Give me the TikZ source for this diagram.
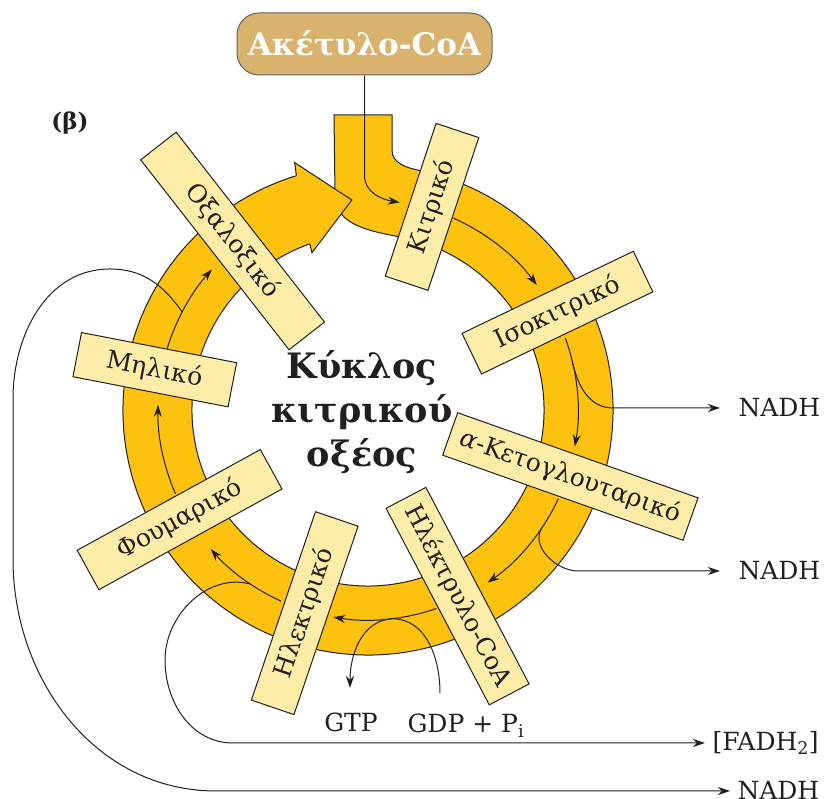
\documentclass[tikz,border=0pt]{standalone}
\usepackage{fontspec}
\setmainfont{DejaVu Serif}
\usetikzlibrary{arrows.meta}

\definecolor{ringcol}{HTML}{FDC20F}
\definecolor{boxcol}{HTML}{FEEDA8}
\definecolor{acetcol}{HTML}{D9B26E}
\definecolor{inkcol}{HTML}{231F20}

\begin{document}
\begin{tikzpicture}
[x=1pt, y=1pt, line width=1pt,
 met/.style={draw=inkcol, fill=boxcol, text=inkcol, minimum height=45, inner sep=0pt, font=\fontsize{25}{30}\selectfont},
 acet/.style={draw=inkcol!70, fill=acetcol, text=white, rounded corners=22, minimum width=255, minimum height=62, font=\fontsize{31}{36}\selectfont\bfseries},
 lbl/.style={text=inkcol, inner sep=0pt, font=\fontsize{25}{30}\selectfont},
 flow/.style={draw=inkcol, arrows={-Stealth[length=12pt, width=8pt]}}]
\useasboundingbox (0,0) rectangle (836,799);

\node[acet] (acetyl) at (364.5,755) {Ακέτυλο-CoA};
\node[text=inkcol, font=\fontsize{23}{27}\selectfont\bfseries] (beta) at (70,676) {(β)};
\node[text=inkcol, align=center, font=\fontsize{35}{44}\selectfont\bfseries] (cycle) at (362,387) {Κύκλος\\κιτρικού\\οξέος};

\node[lbl, anchor=west, inner xsep=18pt] (nadh1) at (720,391) {NADH};
\node[lbl, anchor=west, inner xsep=18pt] (nadh2) at (720,228) {NADH};
\node[lbl, anchor=west, inner xsep=7pt] (fadh) at (705,56) {[FADH\textsubscript{2}]};
\node[lbl, anchor=west, inner xsep=7pt] (nadh3) at (730,8) {NADH};
\node[lbl, anchor=base] (gtp) at (351,67) {GTP};
\node[lbl, anchor=base west] (gdp) at (407,66) {GDP + P\textsubscript{i}};

\begin{scope}[shift={(368,389)}]
\filldraw[draw=inkcol, fill=ringcol] (78:245) arc[start angle=78, end angle=-254.5, radius=245]
  -- (108:176) arc[start angle=-252, end angle=79, radius=176]
  to[out=169, in=270] (-33,215) -- (-34,295) -- (24,295) -- (24,260)
  to[out=270, in=168] (78:245) -- cycle;
\fill[ringcol] (107:245) -- (106.5:258) -- (94.4:210.6) -- (109.6:167) -- (109.3:176) -- cycle;
\draw[inkcol] (107:245) -- (106.5:258) -- (94.4:210.6) -- (109.6:167) -- (109.3:176);

\coordinate (gdpin) at (72,-283);
\coordinate (gtpout) at (-18,-278);

\draw[flow] (acetyl.south) -- ++(0,-100) to[out=270, in=171] (81.3:210);
\draw[flow] (66:210) arc[start angle=66, end angle=36.5, radius=210];
\draw[flow] (20:210) arc[start angle=20, end angle=-10, radius=210];
\draw[flow] (12.8:210) to[out=-77, in=180] (245,2) -- (nadh1.west);
\draw[flow] (-25:210) arc[start angle=-25, end angle=-55.3, radius=210];
\draw[flow] (-34:210) to[out=-124, in=180] (210,-161) -- (nadh2.west);
\draw[flow] (-71:210) arc[start angle=-71, end angle=-99.5, radius=210];
\draw[flow] (gdpin) to[out=90, in=0] (-83.5:210) to[out=185, in=90] (gtpout);
\draw[flow] (245.5:210) arc[start angle=245.5, end angle=221.5, radius=210];
\draw[flow] (236:210) to[out=165, in=90] (-203,-250) to[out=270, in=180] (-135,-333) -- (fadh.west);
\draw[flow] (203.5:210) arc[start angle=203.5, end angle=178.6, radius=210];
\draw[flow] (163:210) arc[start angle=163, end angle=138, radius=210];
\draw[flow] (152.2:210) to[out=125, in=0] (-258,141) to[out=180, in=90] (-355,11) -- (-355,-149)
  to[out=270, in=180] (-152,-381) -- (nadh3.west);

\node[met, minimum width=241, rotate=-52] (oxal) at (128.7:216.6) {Οξαλοξικό};
\node[met, minimum width=161, rotate=71.6] (citr) at (72.5:213) {Κιτρικό};
\node[met, minimum width=190, rotate=25.6] (isoc) at (27.2:213) {Ισοκιτρικό};
\node[met, minimum width=255, rotate=-19.5] (aket) at (-18.2:213) {\textit{α}-Κετογλουταρικό};
\node[met, minimum width=222, rotate=-62.3] (succoa) at (-64.3:206.6) {Ηλέκτρυλο-CoA};
\node[met, minimum width=199, rotate=71.2] (succ) at (252.7:212.8) {Ηλεκτρικό};
\node[met, minimum width=209, rotate=28.8] (fum) at (210.2:218) {Φουμαρικό};
\node[met, minimum width=158, rotate=-11] (mal) at (169.3:217) {Μηλικό};
\end{scope}
\end{tikzpicture}
\end{document}
